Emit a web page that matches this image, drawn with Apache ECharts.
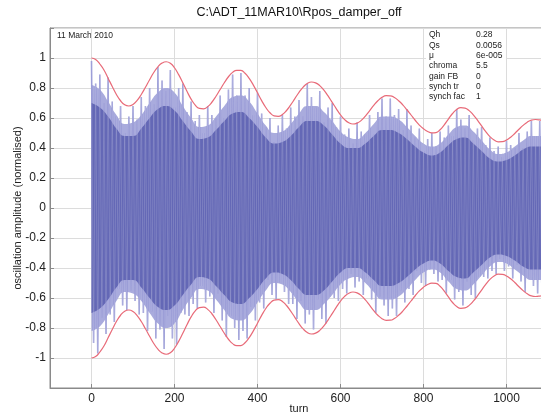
<!DOCTYPE html>
<html>
<head>
<meta charset="utf-8">
<script src="https://cdn.jsdelivr.net/npm/echarts@6/dist/echarts.min.js"></script>
<style>html,body{margin:0;padding:0;background:#fff}#c{width:541px;height:413px}</style>
</head>
<body>
<div id="c"></div>
<script>
// ---- data ----
const titleText = 'C:\\ADT_11MAR10\\Rpos_damper_off';
const dateText = '11 March 2010';
const paramNames = ['Qh', 'Qs', 'μ', 'chroma', 'gain FB', 'synch tr', 'synch fac'];
const paramValues = ['0.28', '0.0056', '6e-005', '5.5', '0', '0', '1'];
const xTicks = [0, 200, 400, 600, 800, 1000];
const yTicks = [-1, -0.8, -0.6, -0.4, -0.2, 0, 0.2, 0.4, 0.6, 0.8, 1];

// envelope (red), sampled every 10 turns from turn 0
const envStep = 10;
const envUpper = [1.00,0.99,0.96,0.92,0.865,0.81,0.757,0.715,0.688,0.68,
  0.69,0.717,0.757,0.805,0.855,0.903,0.941,0.966,0.975,0.965,
  0.935,0.889,0.835,0.778,0.726,0.686,0.664,0.661,0.676,0.705,
  0.745,0.79,0.835,0.875,0.904,0.918,0.917,0.898,0.864,0.819,
  0.768,0.716,0.67,0.635,0.614,0.611,0.623,0.65,0.687,0.729,
  0.771,0.806,0.83,0.84,0.834,0.816,0.786,0.747,0.704,0.661,
  0.621,0.589,0.568,0.56,0.566,0.584,0.613,0.648,0.684,0.715,
  0.738,0.749,0.748,0.736,0.715,0.688,0.655,0.62,0.585,0.553,
  0.528,0.51,0.501,0.503,0.522,0.554,0.593,0.63,0.657,0.669,
  0.666,0.649,0.621,0.586,0.547,0.509,0.476,0.453,0.441,0.442,
  0.453,0.472,0.497,0.525,0.551,0.572,0.586,0.59,0.587,0.58,0.57];
const envLower = [-1.00,-0.99,-0.96,-0.92,-0.865,-0.81,-0.757,-0.715,-0.688,-0.68,
  -0.69,-0.717,-0.757,-0.805,-0.855,-0.903,-0.941,-0.966,-0.975,-0.965,
  -0.935,-0.889,-0.835,-0.778,-0.726,-0.686,-0.664,-0.661,-0.676,-0.705,
  -0.745,-0.79,-0.835,-0.875,-0.904,-0.918,-0.917,-0.898,-0.864,-0.819,
  -0.768,-0.716,-0.67,-0.635,-0.614,-0.611,-0.623,-0.65,-0.687,-0.729,
  -0.771,-0.806,-0.83,-0.84,-0.834,-0.816,-0.786,-0.747,-0.704,-0.661,
  -0.621,-0.589,-0.568,-0.56,-0.566,-0.584,-0.613,-0.648,-0.684,-0.715,
  -0.738,-0.749,-0.748,-0.736,-0.715,-0.688,-0.655,-0.62,-0.585,-0.553,
  -0.528,-0.51,-0.501,-0.503,-0.522,-0.554,-0.593,-0.63,-0.657,-0.669,
  -0.666,-0.649,-0.621,-0.586,-0.547,-0.509,-0.476,-0.453,-0.441,-0.442,
  -0.453,-0.472,-0.497,-0.525,-0.551,-0.572,-0.586,-0.59,-0.587,-0.58,-0.57];

// oscillation spike tips (blue): upper tips at turns 0,10,20..., lower tips at 5,15,25...
const tipStep = 10;
const tipUpper = [.98,.83,.89,.70,.87,.71,.61,.68,.50,.61,
  .68,.59,.74,.68,.80,.69,.94,.85,.78,.92,
  .67,.80,.83,.64,.71,.58,.62,.50,.68,.62,
  .60,.75,.60,.79,.89,.75,.90,.75,.80,.62,
  .77,.63,.54,.60,.44,.55,.62,.53,.67,.61,
  .72,.61,.83,.74,.67,.78,.57,.67,.70,.54,
  .61,.49,.53,.43,.57,.51,.49,.62,.49,.64,
  .73,.61,.73,.62,.66,.52,.66,.55,.47,.53,
  .38,.46,.50,.41,.51,.47,.55,.48,.66,.59,
  .53,.62,.45,.53,.54,.42,.47,.38,.41,.34,
  .45,.42,.40,.50,.40,.51,.58,.48,.58,.49,.53];
const tipLower = [-.90,-.97,-.73,-.84,-.71,-.76,-.54,-.65,-.68,-.55,
  -.62,-.71,-.70,-.82,-.69,-.87,-.81,-.94,-.72,-.87,
  -.91,-.70,-.71,-.72,-.64,-.67,-.52,-.63,-.59,-.70,
  -.57,-.75,-.86,-.72,-.80,-.88,-.82,-.87,-.66,-.75,
  -.63,-.67,-.48,-.58,-.61,-.50,-.56,-.64,-.64,-.74,
  -.62,-.77,-.71,-.81,-.61,-.74,-.77,-.59,-.60,-.62,
  -.54,-.57,-.44,-.53,-.49,-.58,-.47,-.61,-.70,-.59,
  -.65,-.72,-.67,-.72,-.55,-.63,-.54,-.58,-.42,-.50,
  -.52,-.41,-.44,-.49,-.48,-.57,-.48,-.61,-.56,-.65,
  -.49,-.58,-.60,-.46,-.46,-.47,-.42,-.44,-.34,-.42,
  -.39,-.47,-.38,-.49,-.56,-.47,-.52,-.57,-.53,-.57];

// lighter mid band of the oscillation, sampled every 20 turns
const bandStep = 20;
const midUpper = [.82,.79,.71,.62,.56,.57,.62,.70,.77,.80,
  .77,.68,.60,.54,.55,.61,.68,.74,.75,.71,
  .63,.55,.50,.51,.56,.63,.68,.68,.64,.58,
  .51,.47,.46,.50,.56,.61,.61,.59,.54,.48,
  .43,.41,.43,.49,.54,.55,.51,.45,.39,.36,
  .37,.41,.45,.48,.48,.47];
const midLower = [-.82,-.79,-.71,-.62,-.56,-.57,-.62,-.70,-.77,-.80,
  -.77,-.68,-.60,-.54,-.55,-.61,-.68,-.74,-.75,-.71,
  -.63,-.55,-.50,-.51,-.56,-.63,-.68,-.68,-.64,-.58,
  -.51,-.47,-.46,-.50,-.56,-.61,-.61,-.59,-.54,-.48,
  -.43,-.41,-.43,-.49,-.54,-.55,-.51,-.45,-.39,-.36,
  -.37,-.41,-.45,-.48,-.48,-.47];
// dense dark core of the oscillation, sampled every 20 turns
const coreUpper = [.70,.67,.61,.53,.48,.48,.53,.60,.66,.68,
  .65,.58,.51,.46,.47,.52,.58,.63,.64,.60,
  .54,.47,.43,.44,.48,.54,.58,.58,.55,.49,
  .43,.40,.40,.43,.48,.52,.52,.50,.46,.41,
  .37,.35,.37,.42,.46,.47,.43,.38,.33,.31,
  .32,.35,.39,.41,.41,.40];
const coreLower = [-.70,-.67,-.61,-.53,-.48,-.48,-.53,-.60,-.66,-.68,
  -.65,-.58,-.51,-.46,-.47,-.52,-.58,-.63,-.64,-.60,
  -.54,-.47,-.43,-.44,-.48,-.54,-.58,-.58,-.55,-.49,
  -.43,-.40,-.40,-.43,-.48,-.52,-.52,-.50,-.46,-.41,
  -.37,-.35,-.37,-.42,-.46,-.47,-.43,-.38,-.33,-.31,
  -.32,-.35,-.39,-.41,-.41,-.40];

// ---- build series data from the arrays ----
const pairs = (arr, step) => arr.map((v, i) => [i * step, v]);
const zig = [];
for (let i = 0; i < tipUpper.length; i++) {
  zig.push([i * tipStep, tipUpper[i]]);
  if (i < tipLower.length) zig.push([i * tipStep + tipStep / 2, tipLower[i]]);
}

const FONT = '"Liberation Sans", Arial, Helvetica, sans-serif';
const chart = echarts.init(document.getElementById('c'), null, {renderer: 'canvas'});
const texts = [];
texts.push({type: 'text', x: 299, y: 13, style: {text: titleText, font: '12.5px ' + FONT, fill: '#111', textAlign: 'center', textVerticalAlign: 'middle'}});
texts.push({type: 'text', x: 57, y: 36, style: {text: dateText, font: '8.5px ' + FONT, fill: '#222', textVerticalAlign: 'middle'}});
// white box behind the parameter table (hides grid lines, as in the reference)
texts.push({type: 'rect', shape: {x: 426, y: 29, width: 80, height: 74}, style: {fill: '#fff'}, z: 50});
paramNames.forEach((n, i) => {
  texts.push({type: 'text', x: 429, y: 35 + i * 10.3, z: 51, style: {text: n, font: '8.5px ' + FONT, fill: '#222', textVerticalAlign: 'middle'}});
  texts.push({type: 'text', x: 476, y: 35 + i * 10.3, z: 51, style: {text: paramValues[i], font: '8.5px ' + FONT, fill: '#222', textVerticalAlign: 'middle'}});
});

const band = (data, color, z) => ({type: 'line', data: data, symbol: 'none', smooth: true, z: z, silent: true,
  lineStyle: {width: 0}, areaStyle: {color: color, opacity: 1}});

chart.setOption({
  animation: false,
  backgroundColor: '#fff',
  grid: {left: 50, right: -7, top: 28, bottom: 25, show: true, borderColor: '#8a8a8a', borderWidth: 1,
         containLabel: false, outerBoundsMode: 'none'},
  xAxis: {
    type: 'value', min: -100, max: 1100,
    name: 'turn', nameLocation: 'middle', nameGap: 15, nameMoveOverlap: false,
    nameTextStyle: {fontFamily: FONT, fontSize: 11, color: '#222', verticalAlign: 'top'},
    axisLine: {show: true, onZero: false, lineStyle: {color: '#8a8a8a'}},
    axisTick: {show: true, inside: true, length: 4, customValues: xTicks, lineStyle: {color: '#8a8a8a'}},
    axisLabel: {customValues: xTicks, fontFamily: FONT, fontSize: 12, color: '#222', margin: 5,
                formatter: v => String(v)},
    splitLine: {show: true, lineStyle: {color: '#dcdcdc', width: 1}}
  },
  yAxis: {
    type: 'value', min: -1.2, max: 1.2, interval: 0.2,
    name: 'oscillation amplitude (normalised)', nameLocation: 'middle', nameGap: 27, nameMoveOverlap: false,
    nameTextStyle: {fontFamily: FONT, fontSize: 11, color: '#222'},
    axisLine: {show: true, onZero: false, lineStyle: {color: '#8a8a8a'}},
    axisTick: {show: true, inside: true, length: 4, lineStyle: {color: '#8a8a8a'}},
    axisLabel: {
      fontFamily: FONT, fontSize: 12, color: '#222', margin: 4,
      formatter: v => {
        const r = Math.round(v * 10) / 10;
        return yTicks.indexOf(r) >= 0 ? String(r) : '';
      }
    },
    splitLine: {show: true, lineStyle: {color: '#dcdcdc', width: 1}}
  },
  series: [
    band(pairs(midUpper, bandStep), '#a9abdd', 1),
    band(pairs(midLower, bandStep), '#a9abdd', 1),
    {type: 'line', data: zig, symbol: 'none', z: 2, silent: true,
     lineStyle: {color: '#8d8fd2', width: 1.5}},
    band(pairs(coreUpper, bandStep), '#6468b6', 3),
    band(pairs(coreLower, bandStep), '#6468b6', 3),
    {type: 'line', data: zig, symbol: 'none', z: 4, silent: true,
     lineStyle: {color: 'rgba(255,255,255,0.16)', width: 1}},
    {type: 'line', data: pairs(envUpper, envStep), symbol: 'none', smooth: true, z: 5, silent: true,
     lineStyle: {color: '#e86a78', width: 1.2}},
    {type: 'line', data: pairs(envLower, envStep), symbol: 'none', smooth: true, z: 5, silent: true,
     lineStyle: {color: '#e86a78', width: 1.2}}
  ],
  graphic: texts
});
</script>
</body>
</html>
